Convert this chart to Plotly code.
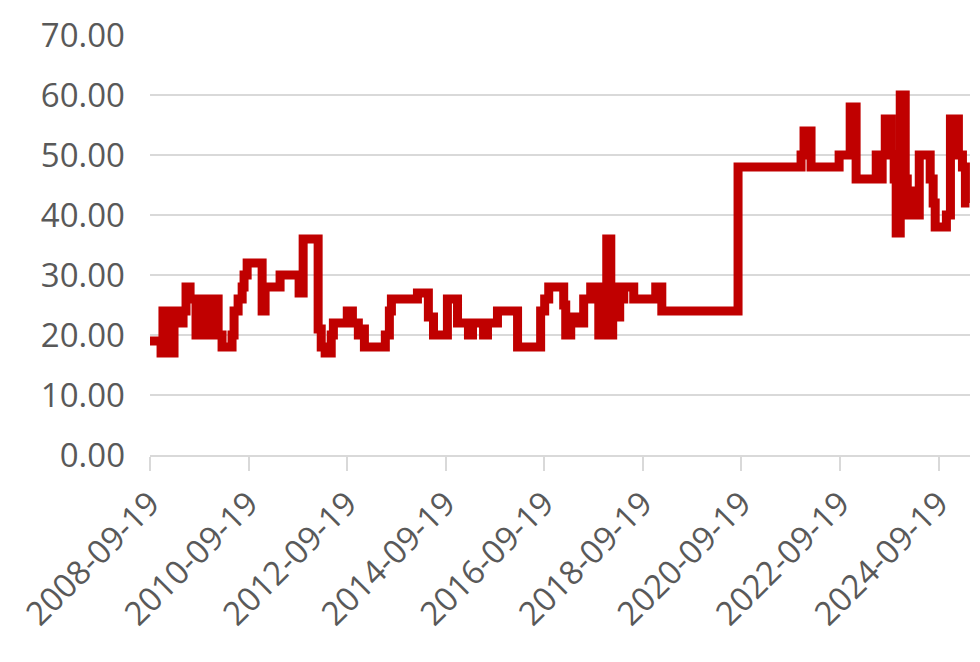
import plotly.graph_objects as go

_LINE_COLOR = "#C00000"
_GRID_COLOR = "#D9D9D9"
_TEXT_COLOR = "#595959"

# step series: value holds from each date until the next one
dates = [
    "2008-09-19", "2008-12-10", "2008-12-24", "2009-01-16", "2009-01-31",
    "2009-03-01", "2009-03-16", "2009-04-07", "2009-05-22", "2009-06-13",
    "2009-07-13", "2009-08-26", "2009-09-18", "2009-10-17", "2009-11-08",
    "2009-12-08", "2009-12-30", "2010-02-06", "2010-03-07", "2010-05-20",
    "2010-06-04", "2010-07-04", "2010-08-03", "2010-08-17", "2010-09-09",
    "2010-12-29", "2011-01-20", "2011-05-11", "2011-09-29", "2011-10-29",
    "2012-02-17", "2012-03-11", "2012-04-09", "2012-05-24", "2012-06-09",
    "2012-09-20", "2012-10-28", "2012-12-11", "2012-12-26", "2013-01-25",
    "2013-06-29", "2013-07-29", "2013-08-13", "2014-02-22", "2014-05-14",
    "2014-06-21", "2014-10-02", "2014-12-16", "2015-03-07", "2015-04-06",
    "2015-06-27", "2015-07-26", "2015-10-08", "2016-03-05", "2016-08-23",
    "2016-09-22", "2016-10-22", "2017-02-10", "2017-02-25", "2017-04-03",
    "2017-05-03", "2017-07-08", "2017-08-29", "2017-10-28", "2017-11-19",
    "2017-12-11", "2017-12-26", "2018-01-25", "2018-02-08", "2018-03-03",
    "2018-04-01", "2018-05-01", "2018-07-14", "2018-12-24", "2019-02-07",
    "2020-08-25", "2021-12-05", "2021-12-27", "2022-02-17", "2022-09-13",
    "2022-12-04", "2023-01-17", "2023-06-15", "2023-07-14", "2023-07-29",
    "2023-08-21", "2023-10-04", "2023-10-26", "2023-11-10", "2023-12-10",
    "2024-01-16", "2024-01-31", "2024-03-08", "2024-04-06", "2024-04-29",
    "2024-07-19", "2024-08-10", "2024-08-25", "2024-11-16", "2024-12-16",
    "2025-02-13", "2025-03-15", "2025-04-06", "2025-05-06",
]
values = [
    19, 17, 24, 17, 24,
    17, 24, 22, 24, 28,
    26, 20, 26, 20, 26,
    20, 26, 20, 18, 20,
    24, 26, 28, 30, 32,
    24, 28, 30, 27, 36,
    21, 18, 17, 20, 22,
    24, 22, 20, 21, 18,
    20, 24, 26, 27, 23,
    20, 26, 22, 20, 22,
    20, 22, 24, 18, 24,
    26, 28, 25, 20, 23,
    22, 26, 28, 20, 28,
    20, 36, 20, 28, 23,
    26, 28, 26, 28, 24,
    48, 50, 54, 48, 50,
    58, 46, 50, 46, 50,
    56, 50, 46, 37, 60,
    46, 40, 44, 40, 50,
    46, 42, 38, 40, 56,
    50, 48, 42, 42,
]

tick_dates = [
    "2008-09-19", "2010-09-19", "2012-09-19", "2014-09-19", "2016-09-19",
    "2018-09-19", "2020-09-19", "2022-09-19", "2024-09-19",
]
y_ticks = [0, 10, 20, 30, 40, 50, 60, 70]

fig = go.Figure(
    go.Scatter(
        x=dates,
        y=values,
        mode="lines",
        line=dict(color=_LINE_COLOR, width=9, shape="hv"),
        hoverinfo="skip",
    )
)

# page body has an 8px margin, so the figure is a bit smaller than the window
fig.update_layout(
    width=972,
    height=654,
    margin=dict(l=142, r=10, t=27, b=207),
    plot_bgcolor="white",
    paper_bgcolor="white",
    showlegend=False,
    font=dict(family="Open Sans", size=33, color=_TEXT_COLOR),
)
fig.update_xaxes(
    type="date",
    range=["2008-09-19", "2025-05-10"],
    tickvals=tick_dates,
    ticktext=tick_dates,
    tickangle=-45,
    showgrid=False,
    showline=True,
    linecolor=_GRID_COLOR,
    linewidth=2,
    ticks="outside",
    ticklen=14,
    tickwidth=2,
    tickcolor=_GRID_COLOR,
    zeroline=False,
    automargin=False,
)
fig.update_yaxes(
    range=[0, 70],
    tickvals=y_ticks,
    tickformat=".2f",
    showgrid=True,
    gridcolor=_GRID_COLOR,
    gridwidth=2,
    zeroline=False,
    showline=False,
    ticklabelstandoff=24,
    automargin=False,
)

fig.write_html("out.html")
